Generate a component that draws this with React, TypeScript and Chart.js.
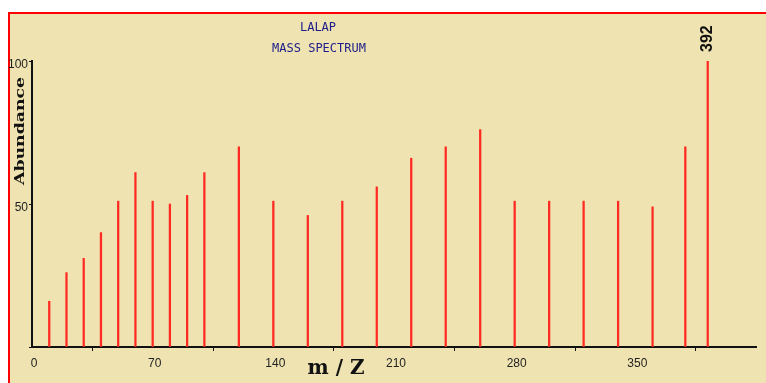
import React, { useEffect, useRef } from "react";
import { Chart, registerables } from "chart.js";

Chart.register(...registerables);

const mzValues = [10, 20, 30, 40, 50, 60, 70, 80, 90, 100, 120, 140, 160, 180, 200, 220, 240, 260, 280, 300, 320, 340, 360, 379, 392];
const abundanceValues = [16, 26, 31, 40, 51, 61, 51, 50, 53, 61, 70, 51, 46, 51, 56, 66, 70, 76, 51, 51, 51, 51, 49, 70, 100];
const labeledPeaks = [392];
const xTickLabels = [0, 70, 140, 210, 280, 350];
const yTickLabels = [50, 100];
const titleLines = ["LALAP", "MASS SPECTRUM"];
const xAxisTitle = "m / Z";
const yAxisTitle = "Abundance";

const decorPlugin = {
  id: "decor",
  beforeDraw(chart: any) {
    const ctx = chart.ctx;
    ctx.save();
    ctx.fillStyle = "#ffffff";
    ctx.fillRect(0, 0, chart.width, chart.height);
    ctx.fillStyle = "#efe3b1";
    ctx.fillRect(8, 12, chart.width - 8, chart.height - 12);
    ctx.fillStyle = "#ff0000";
    ctx.fillRect(8, 12, 2, chart.height - 12);
    ctx.fillRect(8, 12, chart.width - 8, 2);
    ctx.restore();
  },
  afterDraw(chart: any) {
    const ctx = chart.ctx;
    const xs = chart.scales.x;
    const ys = chart.scales.y;
    ctx.save();
    // titles
    ctx.fillStyle = "#1c1c8a";
    ctx.font = "12px 'DejaVu Sans Mono'";
    ctx.textAlign = "center";
    ctx.textBaseline = "middle";
    ctx.fillText(titleLines[0], 318, 28);
    ctx.fillText(titleLines[1], 319, 49);

    // peak labels
    ctx.fillStyle = "#111";
    ctx.font = "bold 16px 'Liberation Sans'";
    labeledPeaks.forEach((m) => {
      const i = mzValues.indexOf(m);
      const px = xs.getPixelForValue(m);
      const py = ys.getPixelForValue(abundanceValues[i]);
      ctx.save();
      ctx.translate(px, py - 9);
      ctx.rotate(-Math.PI / 2);
      ctx.textAlign = "left";
      ctx.textBaseline = "middle";
      ctx.fillText(String(m), 0, 0);
      ctx.restore();
    });

    // x axis title
    ctx.fillStyle = "#111";
    ctx.font = "bold 20px 'DejaVu Serif'";
    ctx.textAlign = "center";
    ctx.textBaseline = "alphabetic";
    ctx.fillText(xAxisTitle, 336, 374);

    // y axis title
    ctx.font = "bold 13px 'DejaVu Serif'";
    const w = ctx.measureText(yAxisTitle).width;
    const target = 108;
    ctx.save();
    ctx.translate(21, 131);
    ctx.rotate(-Math.PI / 2);
    ctx.scale(target / w, 1);
    ctx.textAlign = "center";
    ctx.textBaseline = "middle";
    ctx.fillText(yAxisTitle, 0, 0);
    ctx.restore();

    ctx.restore();
  },
};

export default function App() {
  const ref = useRef<HTMLCanvasElement>(null);
  useEffect(() => {
    if (!ref.current) return;
    const chart = new Chart(ref.current, {
      type: "bar",
      data: {
        datasets: [
          {
            data: mzValues.map((m, i) => ({ x: m, y: abundanceValues[i] })),
            backgroundColor: "#ff2b22",
            borderWidth: 0,
            barThickness: 1.6,
          },
        ],
      },
      options: {
        responsive: false,
        animation: false,
        events: [],
        layout: { padding: { top: 61, right: 10, left: 0, bottom: 0 } },
        plugins: {
          legend: { display: false },
          tooltip: { enabled: false },
          title: { display: false },
        },
        scales: {
          x: {
            type: "linear",
            min: 0,
            max: 420,
            offset: false,
            afterFit: (s: any) => {
              s.height = 36;
            },
            border: { display: true, color: "#111", width: 2 },
            grid: {
              offset: false,
              drawOnChartArea: false,
              drawTicks: true,
              tickLength: 4,
              color: (c: any) =>
                c.tick && c.tick.value % 70 === 35 ? "#111" : "rgba(0,0,0,0)",
            },
            ticks: {
              stepSize: 35,
              autoSkip: false,
              maxRotation: 0,
              padding: 5,
              labelOffset: 2,
              color: "#222",
              font: { family: "'Liberation Sans'", size: 12 },
              callback: (v: any) => (xTickLabels.includes(Number(v)) ? String(v) : ""),
            },
          },
          y: {
            min: 0,
            max: 100,
            afterFit: (s: any) => {
              s.width = 32;
            },
            border: { display: true, color: "#111", width: 2 },
            grid: {
              drawOnChartArea: false,
              drawTicks: true,
              tickLength: 3,
              color: "#111",
            },
            ticks: {
              stepSize: 50,
              padding: 1,
              labelOffset: 4,
              color: "#222",
              font: { family: "'Liberation Sans'", size: 12 },
              callback: (v: any) => (yTickLabels.includes(Number(v)) ? String(v) : ""),
            },
          },
        },
      },
      plugins: [decorPlugin],
    });
    return () => chart.destroy();
  }, []);
  return (
    <canvas
      ref={ref}
      width={766}
      height={383}
      style={{ position: "fixed", left: 0, top: 0, width: 766, height: 383 }}
    />
  );
}
